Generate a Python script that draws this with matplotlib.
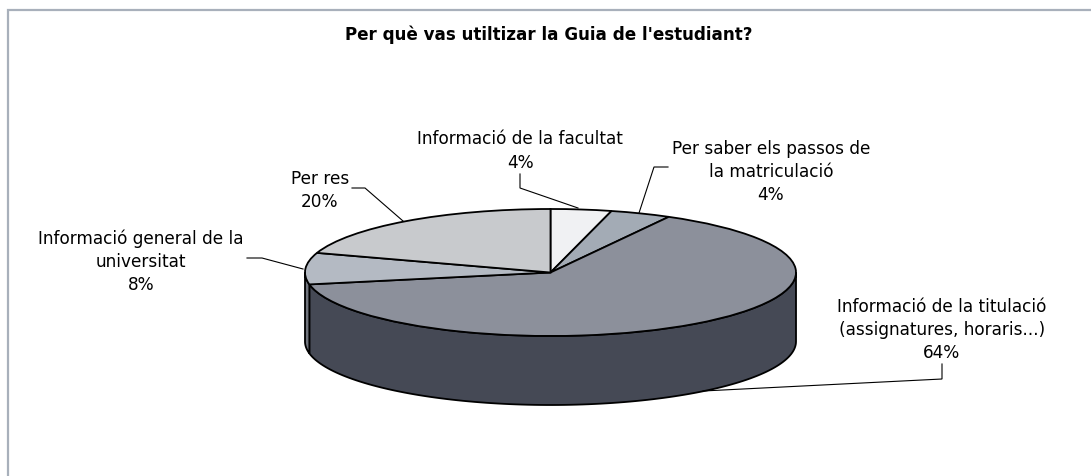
#!/usr/bin/env python3
"""Pseudo 3D pie: Per què vas utilitzar la Guia de l'estudiant"""

import numpy as np
import matplotlib
matplotlib.use('Agg')
import matplotlib.pyplot as plt
from matplotlib.patches import Polygon

W, H = 1091, 477

categories = [
    "Informació de la facultat",
    "Per saber els passos de\nla matriculació",
    "Informació de la titulació\n(assignatures, horaris...)",
    "Informació general de la\nuniversitat",
    "Per res",
]
values = [4, 4, 64, 8, 20]
slice_colors = ['#f0f1f3', '#a3abb5', '#8c909b', '#b4bac3', '#c8cacd']
wall_colors = ['#77797f', '#555a62', '#454955', '#70747d', '#64656a']

title = "Per què vas utiltizar la Guia de l'estudiant?"

FONT = 'DejaVu Sans'
TXT = 12.2

fig = plt.figure(figsize=(W / 100, H / 100), dpi=100, facecolor='white')

# pixel coordinate overlay, y pointing down
bg = fig.add_axes([0, 0, 1, 1])
bg.set_xlim(0, W)
bg.set_ylim(H, 0)
bg.axis('off')
bg.plot([7.5, 7.5, W], [H, 10.5, 10.5], color='#a8b0bb', lw=1.6, solid_joinstyle='miter')

# ellipse of the pie top
cx, cy, rx, ry, depth = 550.5, 273.5, 245.5, 63.5, 69

ax = fig.add_axes([(cx - rx) / W, 1 - (cy + ry) / H, 2 * rx / W, 2 * ry / H])
ax.patch.set_alpha(0)

# side wall first, built from cumulative shares (clockwise from the top)
edges = np.cumsum([0] + values) / sum(values) * 2 * np.pi
d = depth / ry
for a0, a1, col in zip(edges[:-1], edges[1:], wall_colors):
    a = max(a0, np.pi / 2)
    b = min(a1, 3 * np.pi / 2)
    if b <= a:
        continue
    t = np.linspace(a, b, 120)
    xs, ys = np.sin(t), np.cos(t)
    pts = np.r_[np.c_[xs, ys], np.c_[xs[::-1], ys[::-1] - d]]
    ax.add_patch(Polygon(pts, closed=True, facecolor=col, edgecolor='black', lw=1.3,
                         clip_on=False, zorder=1))

wedges, _ = ax.pie(values, colors=slice_colors, startangle=90, counterclock=False,
                   radius=1, wedgeprops=dict(edgecolor='black', linewidth=1.3, zorder=2))
for w in wedges:
    w.set_clip_on(False)
ax.set_aspect('auto')
ax.set_xlim(-1, 1)
ax.set_ylim(-1, 1)

bg.set_zorder(3)
bg.text(548.5, 35, title, ha='center', va='center', fontsize=12.05, fontweight='bold',
        family=FONT, color='black')

# labels: text centre, then leader line in pixels
labels = [
    (520, 151, f"{categories[0]}\n{values[0]}%"),
    (771, 172, f"{categories[1]}\n{values[1]}%"),
    (942, 330, f"{categories[2]}\n{values[2]}%"),
    (141, 262, f"{categories[3]}\n{values[3]}%"),
    (320, 190.5, f"{categories[4]}\n{values[4]}%"),
]
for x, y, s in labels:
    bg.text(x, y, s, ha='center', va='center', fontsize=TXT, family=FONT, color='black',
            linespacing=1.37)

leaders = [
    ([520, 520, 578], [175, 189, 209]),
    ([668, 654, 639], [168, 168, 214]),
    ([942, 942, 703], [365, 380, 392]),
    ([247, 262, 303], [259, 259, 270]),
    ([352, 365, 403], [189, 189, 222]),
]
for xs, ys in leaders:
    bg.plot(xs, ys, color='black', lw=0.8, solid_joinstyle='miter')

fig.savefig('out.png', dpi=100, facecolor='white')
